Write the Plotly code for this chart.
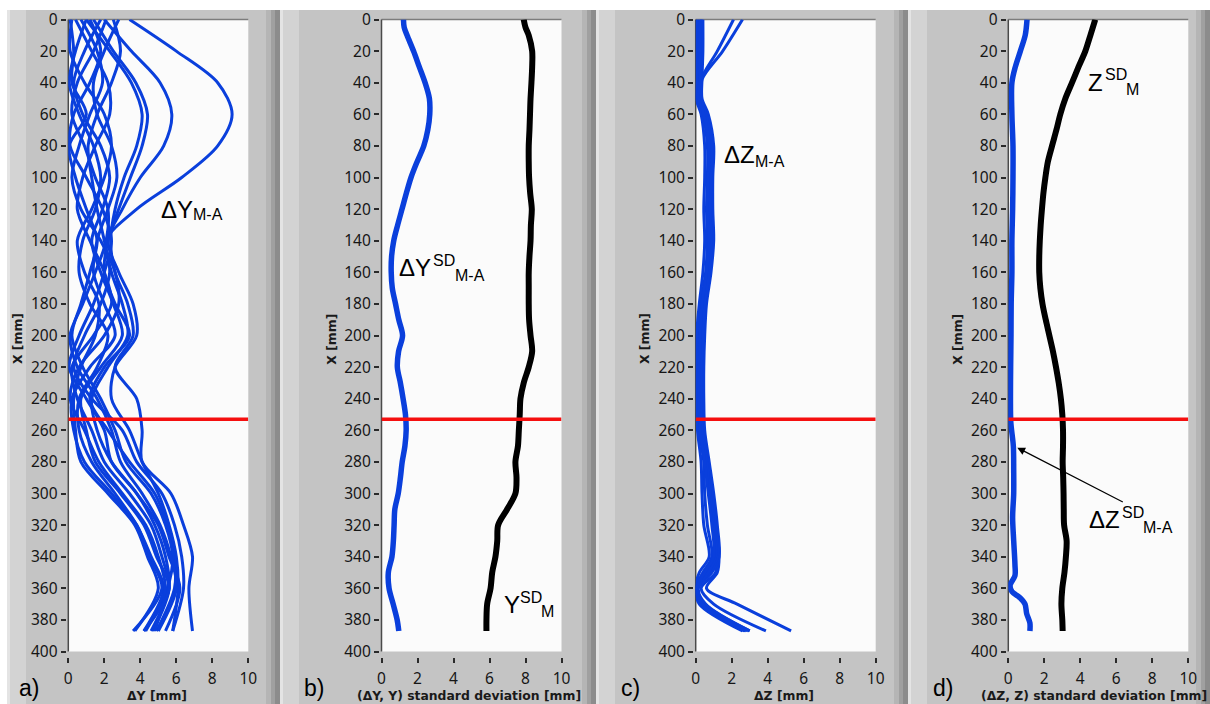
import plotly.graph_objects as go

W, H = 1210, 704

# ---------------- data ----------------
# a) Delta-Y (M-A) profiles [mm] sampled along X [mm]
X_A = [0, 20, 40, 60, 80, 100, 120, 140, 160, 180, 200, 220, 240, 260, 280, 300, 320, 340, 360, 387]
DY_01 = [3.4, 6.0, 8.3, 9.1, 8.3, 6.3, 3.8, 2.1, 2.4, 3.0, 3.3, 2.2, 1.3, 1.6, 2.4, 3.8, 4.8, 5.4, 5.6, 4.6]
DY_02 = [2.0, 3.5, 5.1, 5.75, 5.3, 4.0, 3.0, 2.2, 2.8, 3.6, 3.8, 2.6, 2.4, 3.4, 4.1, 5.0, 5.6, 6.0, 6.1, 5.8]
DY_03 = [1.4, 2.5, 3.75, 4.4, 4.1, 3.45, 2.8, 2.2, 2.0, 2.6, 3.4, 2.0, 1.2, 2.2, 3.4, 4.8, 5.5, 5.9, 5.9, 4.9]
DY_04 = [1.0, 2.3, 3.5, 4.1, 3.8, 3.1, 2.6, 2.35, 2.6, 3.3, 3.6, 2.6, 3.8, 4.1, 4.1, 5.7, 6.4, 6.9, 6.7, 6.9]
DY_05 = [0.1, 0.3, 0.2, 1.0, 0.05, 0.4, 1.0, 1.6, 1.2, 0.7, 0.2, 0.8, 1.8, 2.6, 3.2, 4.6, 5.4, 5.8, 5.5, 4.3]
DY_06 = [0.4, 1.3, 2.2, 2.3, 1.5, 0.8, 0.5, 1.2, 2.0, 2.4, 1.4, 0.2, 0.5, 1.3, 2.0, 3.4, 4.6, 5.2, 5.6, 4.7]
DY_07 = [1.0, 0.4, 0.05, 0.6, 1.4, 1.8, 1.5, 0.8, 0.6, 1.2, 2.2, 1.6, 0.6, 0.6, 1.3, 2.6, 3.8, 4.6, 5.3, 4.2]
DY_08 = [2.8, 2.0, 1.4, 1.6, 2.4, 2.7, 2.2, 1.6, 1.4, 2.0, 2.6, 1.2, 0.2, 0.3, 0.9, 2.4, 3.8, 4.5, 5.2, 3.6]
DY_09 = [1.2, 1.8, 1.2, 0.3, 0.1, 1.0, 1.9, 2.4, 2.0, 1.4, 0.6, 0.05, 1.0, 2.0, 2.4, 3.8, 5.0, 5.6, 6.2, 5.4]
DY_10 = [2.1, 1.4, 0.5, 0.2, 0.9, 1.5, 2.2, 2.1, 1.5, 0.8, 0.1, 0.5, 1.6, 2.4, 2.9, 4.1, 5.1, 5.7, 6.0, 5.0]
DY_11 = [0.7, 1.6, 1.9, 1.2, 0.6, 0.2, 0.7, 1.8, 2.6, 2.8, 2.0, 0.6, 0.1, 0.9, 1.7, 3.0, 4.3, 5.0, 5.4, 4.8]
DY_12 = [1.8, 0.9, 0.3, 0.8, 1.8, 2.3, 1.9, 1.3, 1.8, 2.5, 3.0, 1.8, 0.7, 1.0, 1.5, 2.9, 4.2, 4.9, 5.6, 4.2]
DY_13 = [2.5, 2.9, 2.4, 1.6, 1.1, 1.3, 1.6, 2.0, 2.3, 1.8, 0.9, 0.3, 1.3, 3.0, 3.8, 5.2, 5.9, 6.3, 6.4, 5.8]
DY_14 = [0.2, 0.1, 0.9, 2.0, 2.4, 2.0, 1.3, 0.5, 0.9, 1.7, 1.5, 0.7, 0.3, 0.4, 0.7, 2.2, 3.7, 4.4, 5.0, 3.7]
DY_CURVES = [DY_01, DY_02, DY_03, DY_04, DY_05, DY_06, DY_07,
             DY_08, DY_09, DY_10, DY_11, DY_12, DY_13, DY_14]

# b) standard deviations of Delta-Y (M-A) and of Y (M)
X_B = [0, 5, 10, 20, 30, 40, 50, 60, 70, 80, 90, 100, 110, 120, 130, 140, 150, 160, 170, 180,
       190, 200, 210, 220, 230, 240, 250, 260, 270, 280, 290, 300, 310, 320, 330, 340, 350, 360,
       370, 380, 387]
DY_SD = [1.22, 1.26, 1.42, 1.78, 2.1, 2.42, 2.66, 2.68, 2.57, 2.35, 1.98, 1.64, 1.38, 1.14, 0.9,
         0.68, 0.56, 0.54, 0.6, 0.78, 0.96, 1.17, 0.95, 0.88, 1.05, 1.2, 1.33, 1.37, 1.3, 1.15,
         1.05, 0.93, 0.74, 0.7, 0.66, 0.58, 0.38, 0.42, 0.65, 0.87, 0.96]
Y_SD = [7.9, 8.0, 8.18, 8.37, 8.37, 8.33, 8.28, 8.25, 8.22, 8.18, 8.18, 8.2, 8.26, 8.35, 8.3,
        8.28, 8.22, 8.18, 8.18, 8.18, 8.2, 8.28, 8.37, 8.18, 7.9, 7.72, 7.68, 7.63, 7.58, 7.44,
        7.5, 7.44, 6.98, 6.48, 6.43, 6.33, 6.15, 6.06, 5.87, 5.83, 5.83]

# c) Delta-Z (M-A) profiles
X_C = [0, 20, 38, 50, 60, 80, 100, 120, 140, 160, 180, 200, 220, 240, 260, 280, 300, 320, 340,
       350, 360, 370, 387]
DZ_01 = [2.6, 1.5, 0.35, 0.3, 0.5, 0.9, 0.85, 0.8, 0.9, 0.8, 0.55, 0.45, 0.4, 0.35, 0.45, 0.7, 0.9, 1.15, 1.3, 1.2, 0.6, 2.3, 5.3]
DZ_02 = [2.1, 1.2, 0.3, 0.25, 0.45, 0.8, 0.8, 0.7, 0.8, 0.75, 0.5, 0.35, 0.3, 0.3, 0.4, 0.6, 0.85, 1.05, 1.2, 1.1, 0.3, 1.0, 3.9]
DZ_03 = [0.4, 0.4, 0.35, 0.35, 0.7, 1.0, 0.95, 0.95, 1.0, 0.85, 0.6, 0.5, 0.45, 0.45, 0.5, 0.75, 1.0, 1.2, 1.3, 0.9, 0.1, 0.5, 3.0]
DZ_04 = [0.3, 0.3, 0.3, 0.2, 0.6, 0.95, 0.9, 0.85, 0.95, 0.8, 0.55, 0.45, 0.35, 0.4, 0.45, 0.65, 0.9, 1.1, 1.2, 0.8, 0.15, 0.55, 3.0]
DZ_05 = [0.2, 0.2, 0.2, 0.1, 0.5, 0.8, 0.75, 0.7, 0.8, 0.7, 0.4, 0.3, 0.25, 0.25, 0.3, 0.55, 0.75, 0.95, 1.05, 0.6, 0.05, 0.4, 2.8]
DZ_06 = [0.1, 0.1, 0.1, 0.05, 0.4, 0.65, 0.65, 0.6, 0.65, 0.55, 0.3, 0.15, 0.1, 0.1, 0.2, 0.45, 0.5, 0.65, 0.9, 0.4, 0.0, 0.3, 2.7]
DZ_07 = [0.05, 0.02, 0.05, 0.02, 0.3, 0.5, 0.5, 0.45, 0.5, 0.4, 0.2, 0.05, 0.05, 0.05, 0.1, 0.3, 0.35, 0.45, 0.75, 0.2, 0.0, 0.2, 2.6]
DZ_08 = [0.35, 0.35, 0.3, 0.3, 0.55, 0.9, 0.85, 0.8, 0.85, 0.75, 0.5, 0.4, 0.3, 0.3, 0.35, 0.6, 0.8, 1.0, 1.1, 0.7, 0.1, 0.45, 2.9]
DZ_09 = [0.25, 0.25, 0.25, 0.15, 0.45, 0.75, 0.7, 0.65, 0.75, 0.6, 0.35, 0.25, 0.2, 0.2, 0.25, 0.5, 0.7, 0.9, 1.0, 0.5, 0.05, 0.35, 2.75]
DZ_CURVES = [DZ_01, DZ_02, DZ_03, DZ_04, DZ_05, DZ_06, DZ_07, DZ_08, DZ_09]

# d) standard deviations of Delta-Z (M-A) and of Z (M)
X_D_BLUE = [0, 10, 20, 30, 40, 60, 80, 100, 120, 140, 160, 180, 200, 220, 240, 255, 270, 285,
            300, 315, 330, 345, 352, 358, 362, 366, 370, 376, 382, 387]
DZ_SD = [1.04, 0.94, 0.67, 0.39, 0.2, 0.2, 0.26, 0.26, 0.24, 0.2, 0.2, 0.16, 0.15, 0.13, 0.12,
         0.14, 0.28, 0.3, 0.3, 0.24, 0.3, 0.37, 0.37, 0.1, 0.2, 0.65, 0.93, 1.02, 1.2, 1.2]
X_D_BLACK = [0, 10, 20, 30, 40, 50, 60, 70, 80, 90, 100, 110, 120, 130, 140, 150, 160, 170, 180,
             190, 200, 210, 220, 230, 240, 250, 260, 270, 280, 290, 300, 310, 320, 330, 340, 350,
             360, 370, 380, 387]
Z_SD = [4.83, 4.56, 4.28, 3.9, 3.54, 3.17, 2.89, 2.67, 2.43, 2.2, 2.06, 1.95, 1.87, 1.8, 1.75,
        1.72, 1.72, 1.78, 1.9, 2.08, 2.28, 2.48, 2.65, 2.8, 2.92, 3.0, 3.04, 3.04, 3.02, 3.05,
        3.07, 3.08, 3.1, 3.24, 3.2, 3.12, 3.0, 2.95, 3.0, 3.02]

# red marker line across every panel
RED_X = 253
RED_SPAN = [0, 10]

# ticks and texts
X_TICKS = [0, 2, 4, 6, 8, 10]
Y_TICKS = [0, 20, 40, 60, 80, 100, 120, 140, 160, 180, 200, 220, 240, 260, 280, 300, 320, 340,
           360, 380, 400]
X_TITLES = ["ΔY [mm]", "(ΔY, Y) standard deviation [mm]", "ΔZ [mm]",
            "(ΔZ, Z) standard deviation [mm]"]
Y_TITLE = "X [mm]"
PANEL_TAGS = ["a)", "b)", "c)", "d)"]
# curve labels: (main symbol, superscript, subscript)
CURVE_LABELS = [("ΔY", "", "M-A"), ("ΔY", "SD", "M-A"), ("Y", "SD", "M"),
                ("ΔZ", "", "M-A"), ("Z", "SD", "M"), ("ΔZ", "SD", "M-A")]

# ---------------- styling / geometry ----------------
BLUE = "#0a3fdc"
RED = "#f50f0f"
GRAY = "#c4c4c4"
LEFTS = [68.3, 381.5, 695.7, 1008.3]   # pixel left edge of each plot area
PW = 180.0
TOP, BOT = 19.5, 651.5
FRAMES = [(7, 280), (280, 596), (596, 908), (908, 1210)]


def fx(p):
    return p / W


def fy(p):
    return 1 - p / H


fig = go.Figure()


def add_line(x, y, ax, color, width):
    fig.add_trace(go.Scatter(x=x, y=y, mode="lines", xaxis="x" + ax, yaxis="y" + ax,
                             line=dict(color=color, width=width, shape="spline", smoothing=0.9),
                             showlegend=False, hoverinfo="skip"))


for c in DY_CURVES:
    add_line(c, X_A, "", BLUE, 3)
add_line(DY_SD, X_B, "2", BLUE, 5.5)
add_line(Y_SD, X_B, "2", "#000000", 6)
for c in DZ_CURVES:
    add_line(c, X_C, "3", BLUE, 3)
add_line(DZ_SD, X_D_BLUE, "4", BLUE, 5.5)
add_line(Z_SD, X_D_BLACK, "4", "#000000", 6)
for ax in ["", "2", "3", "4"]:
    fig.add_trace(go.Scatter(x=RED_SPAN, y=[RED_X, RED_X], mode="lines", xaxis="x" + ax,
                             yaxis="y" + ax, line=dict(color=RED, width=3.5),
                             showlegend=False, hoverinfo="skip"))

shapes = []


def rect(x0, y0, x1, y1, color):
    shapes.append(dict(type="rect", xref="paper", yref="paper", x0=fx(x0), x1=fx(x1),
                       y0=fy(y1), y1=fy(y0), fillcolor=color, line=dict(width=0),
                       layer="below"))


def seg(x0, y0, x1, y1, color, w):
    shapes.append(dict(type="line", xref="paper", yref="paper", x0=fx(x0), x1=fx(x1),
                       y0=fy(y0), y1=fy(y1), line=dict(color=color, width=w), layer="below"))


for (a, b) in FRAMES:
    rect(a, 10, b, H, GRAY)
    rect(a, 10, a + 3, H, "#e4e4e4")
    rect(a + 3, 10, a + 19, H, "#d3d3d3")
    rect(b - 14, 10, b - 9, H, "#b5b5b5")
    rect(b - 9, 10, b - 5, H, "#a0a0a0")
    rect(b - 5, 10, b, H, "#8c8c8c")

for L in LEFTS:
    rect(L, TOP, L + PW, BOT, "#fbfbfb")
    seg(L, TOP, L + PW, TOP, "#7c7c7c", 1.5)
    seg(L, TOP, L, BOT, "#4a4a4a", 1.5)

TICKFONT = dict(family="Noto Sans", size=15.5, color="#161616")
layout = dict(width=W, height=H, margin=dict(l=0, r=0, t=0, b=0, pad=0), autosize=False,
              paper_bgcolor="#ffffff", plot_bgcolor="#fbfbfb", shapes=shapes,
              showlegend=False)

for i, L in enumerate(LEFTS):
    s = "" if i == 0 else str(i + 1)
    layout["xaxis" + s] = dict(domain=[fx(L), fx(L + PW)], range=[0, 10], anchor="free",
                               position=fy(656.5), tickmode="array", tickvals=X_TICKS,
                               ticktext=[str(v) for v in X_TICKS], ticks="outside",
                               ticklen=5, tickwidth=1.5, tickcolor="#2a2a2a",
                               ticklabelstandoff=3,
                               showgrid=False, zeroline=False, showline=False,
                               tickfont=TICKFONT, fixedrange=True, automargin=False)
    layout["yaxis" + s] = dict(domain=[fy(BOT), fy(TOP)], range=[400, 0], anchor="free",
                               position=fx(L - 2.6), tickmode="array", tickvals=Y_TICKS,
                               ticktext=[str(v) for v in Y_TICKS], ticks="outside",
                               ticklen=5, tickwidth=1.5, tickcolor="#2a2a2a",
                               showgrid=False, zeroline=False, showline=False,
                               tickfont=TICKFONT, fixedrange=True, automargin=False)

ann = []
TITLE_FONT = dict(family="DejaVu Sans", size=12.4, color="#1a1a1a", weight="bold")
XT_CENTERS = [156.7, 469, 784, 1093.5]
YT_CENTERS = [18, 331.7, 645, 957.8]
TAG_LEFTS = [17, 302, 619, 931]
for i in range(4):
    ann.append(dict(x=fx(XT_CENTERS[i]), y=fy(695), xref="paper", yref="paper",
                    text=X_TITLES[i], showarrow=False, font=TITLE_FONT,
                    xanchor="center", yanchor="middle"))
    ann.append(dict(x=fx(YT_CENTERS[i]), y=fy(339), xref="paper", yref="paper",
                    text=Y_TITLE, showarrow=False, font=TITLE_FONT, textangle=-90,
                    xanchor="center", yanchor="middle"))
    ann.append(dict(x=fx(TAG_LEFTS[i]), y=fy(688), xref="paper", yref="paper",
                    text=PANEL_TAGS[i], showarrow=False,
                    font=dict(family="Liberation Sans", size=23, color="#000000"),
                    xanchor="left", yanchor="middle"))

# curve labels: each piece placed separately (main / superscript / subscript)
BIG = dict(family="Liberation Sans", size=24, color="#000000")
SMALL = dict(family="Liberation Sans", size=16, color="#000000")
# pixel anchors: (main x, main y, sup x, sup y, sub x, sub y)
LABEL_POS = [(159, 209, 0, 0, 191, 214.5),
             (397, 267.5, 431, 260, 453, 275),
             (502, 604, 518, 597, 539, 611),
             (722, 154, 0, 0, 753, 161),
             (1086, 82.5, 1103, 74, 1124, 89),
             (1087, 519, 1120, 512.5, 1141, 527)]
for (main, sup, sub), (mx, my, px_, py_, bx, by) in zip(CURVE_LABELS, LABEL_POS):
    ann.append(dict(x=fx(mx), y=fy(my), xref="paper", yref="paper", text=main,
                    showarrow=False, font=BIG, xanchor="left", yanchor="middle"))
    if sup:
        ann.append(dict(x=fx(px_), y=fy(py_), xref="paper", yref="paper", text=sup,
                        showarrow=False, font=SMALL, xanchor="left", yanchor="middle"))
    ann.append(dict(x=fx(bx), y=fy(by), xref="paper", yref="paper", text=sub,
                    showarrow=False, font=SMALL, xanchor="left", yanchor="middle"))

# arrow pointing at the Delta-Z SD curve in panel d
ann.append(dict(x=0.5, y=271, xref="x4", yref="y4", ax=107, ay=55, text="",
                showarrow=True, arrowhead=2, arrowsize=1.3, arrowwidth=1.2,
                arrowcolor="#000000", standoff=0, startstandoff=0))
layout["annotations"] = ann

fig.update_layout(**layout)
fig.write_html("out.html")
